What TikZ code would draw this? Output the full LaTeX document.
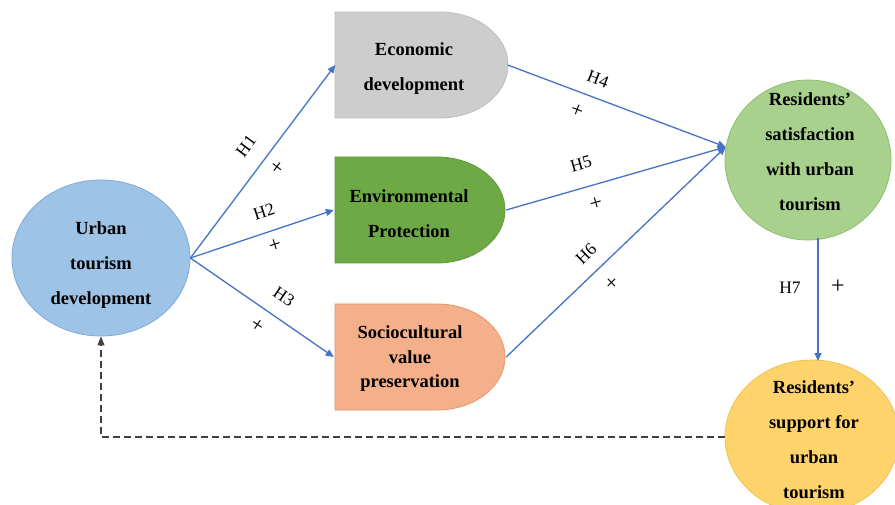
\documentclass[tikz,border=0pt]{standalone}
\usepackage{fontspec}
\setmainfont{Liberation Serif}
\usetikzlibrary{shapes.geometric,arrows.meta}
\definecolor{arrblue}{HTML}{4472C4}
\definecolor{urbfill}{HTML}{9DC3E6}
\definecolor{urbdraw}{HTML}{7FA9D8}
\definecolor{ecofill}{HTML}{CDCDCD}
\definecolor{ecodraw}{HTML}{BDBDBD}
\definecolor{envfill}{HTML}{6DAA45}
\definecolor{envdraw}{HTML}{5E9A3A}
\definecolor{socfill}{HTML}{F4B08A}
\definecolor{socdraw}{HTML}{E8956A}
\definecolor{satfill}{HTML}{A9D18E}
\definecolor{satdraw}{HTML}{8DBE70}
\definecolor{supfill}{HTML}{FFD36B}
\definecolor{supdraw}{HTML}{F2C14E}
\definecolor{dashgray}{HTML}{404040}
\tikzset{
  bigtext/.style={font=\bfseries\fontsize{18.5}{35}\selectfont, align=center, text=black},
  ovalbox/.style={ellipse, inner sep=0pt},
  dbox/.style={minimum width=172pt, minimum height=106pt, inner sep=0pt},
  hyp/.style={-{Triangle[length=8pt,width=7pt]}, draw=arrblue, line width=1.3pt},
  hlabel/.style={font=\fontsize{17.5}{18}\selectfont, inner sep=0pt},
  plabel/.style={font=\fontsize{22}{22}\selectfont, inner sep=0pt},
  dashline/.style={draw=dashgray, line width=1.1pt, dash pattern=on 7pt off 4pt, -{Triangle[length=9pt,width=7pt]}}
}
\begin{document}
\begin{tikzpicture}[x=1pt,y=-1pt]
\useasboundingbox (0,0) rectangle (895,505);
% D-shaped boxes
\path[fill=ecofill, draw=ecodraw, line width=0.8pt] (335,12) -- (440,12) arc[start angle=-90, end angle=90, x radius=68, y radius=53] -- (335,118) -- cycle;
\path[fill=envfill, draw=envdraw, line width=0.8pt] (335,157) -- (437,157) arc[start angle=-90, end angle=90, x radius=68, y radius=53] -- (335,263) -- cycle;
\path[fill=socfill, draw=socdraw, line width=0.8pt] (335,304) -- (437,304) arc[start angle=-90, end angle=90, x radius=68, y radius=53] -- (335,410) -- cycle;
\node[dbox] (eco) at (421.5,65) {};
\node[dbox] (env) at (420,210) {};
\node[dbox] (soc) at (420,357) {};
\node[bigtext] (ecoT) at (414,69) {Economic\\development};
\node[bigtext] (envT) at (409,214) {Environmental\\Protection};
\node[bigtext, font=\bfseries\fontsize{18.5}{24.5}\selectfont] (socT) at (410,359) {Sociocultural\\value\\preservation};
% ovals
\node[ovalbox, fill=urbfill, draw=urbdraw, line width=0.8pt, minimum width=178pt, minimum height=156pt] (urb) at (101,258) {};
\node[bigtext] (urbT) at (101,265) {Urban\\tourism\\development};
\node[ovalbox, fill=satfill, draw=satdraw, line width=0.8pt, minimum width=166pt, minimum height=160pt] (sat) at (808,160) {};
\node[bigtext] (satT) at (810,152) {Residents'\\satisfaction\\with urban\\tourism};
\node[ovalbox, fill=supfill, draw=supdraw, line width=0.8pt, minimum width=174pt, minimum height=154pt] (sup) at (812,437) {};
\node[bigtext] (supT) at (814,440) {Residents'\\support for\\urban\\tourism};
% hypotheses arrows
\draw[hyp] (urb.east) -- (eco.west);
\draw[hyp] (urb.east) -- (env.west);
\draw[hyp] (urb.east) -- (soc.west);
\draw[hyp] (eco.east) -- (sat.171);
\draw[hyp] (env.east) -- (sat.171);
\draw[hyp] (soc.east) -- (sat.171);
\coordinate (satB) at (818,238);
\coordinate (supTop) at (818,361);
\draw[hyp] (satB) -- (supTop);
% dashed feedback
\draw[dashline] (sup.west) -| (urb.south);
% labels
\node[hlabel, rotate=53] (h1) at (246,146) {H1};
\node[plabel, rotate=53] (p1) at (278,168) {+};
\node[hlabel, rotate=18] (h2) at (264,212) {H2};
\node[plabel, rotate=18] (p2) at (275,246) {+};
\node[hlabel, rotate=-34] (h3) at (284,297) {H3};
\node[plabel, rotate=-34] (p3) at (257,326) {+};
\node[hlabel, rotate=-21] (h4) at (598,79) {H4};
\node[plabel, rotate=-21] (p4) at (577,111) {+};
\node[hlabel, rotate=16] (h5) at (581,164) {H5};
\node[plabel, rotate=16] (p5) at (596,204) {+};
\node[hlabel, rotate=44] (h6) at (586,254) {H6};
\node[plabel, rotate=44] (p6) at (613,284) {+};
\node[hlabel] (h7) at (790,288) {H7};
\node[font=\fontsize{24}{24}\selectfont, inner sep=0pt] (p7) at (838,287) {+};
\end{tikzpicture}
\end{document}
